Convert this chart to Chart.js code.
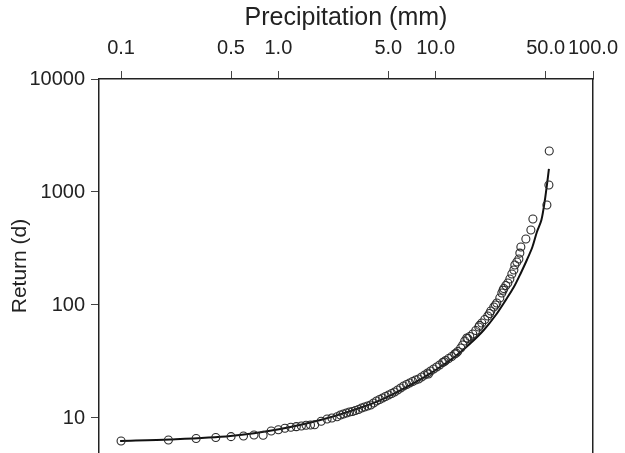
<!DOCTYPE html>
<html>
<head>
<meta charset="utf-8">
<script src="https://cdn.jsdelivr.net/npm/chart.js@4/dist/chart.umd.min.js"></script>
<style>
    body { margin: 0; background: #fff; }
    canvas { display: block; }
</style>
</head>
<body>
<canvas id="return-chart" width="625" height="453"></canvas>
<script>
// Observed points: precipitation (mm) and return period (d)
const precipMm = [
    0.1, 0.2, 0.3, 0.4, 0.5, 0.6, 0.7, 0.8, 0.9, 1.0, 1.1, 1.2, 1.3, 1.4, 1.5, 1.6, 1.7, 1.87, 2.04, 2.19, 2.36,
    2.48, 2.59, 2.71, 2.83, 2.96, 3.09, 3.23, 3.38, 3.53, 3.69, 3.86, 4.03, 4.21, 4.4, 4.6, 4.8, 5.02, 5.25, 5.48,
    5.73, 5.99, 6.26, 6.54, 6.83, 7.14, 7.46, 7.79, 8.14, 8.51, 8.89, 9.0, 9.29, 9.71, 10.15, 10.6, 11.08, 11.3,
    11.58, 12.1, 12.65, 13.21, 13.5, 13.81, 14.43, 14.86, 15.3, 15.76, 16.0, 16.47, 17.21, 17.98, 18.79, 19.0,
    19.63, 20.52, 21.44, 22.0, 22.4, 23.41, 24.0, 24.46, 25.56, 26.33, 26.8, 27.11, 27.92, 28.75, 29.61, 30.49,
    31.4, 31.86, 32.81, 33.79, 34.28, 34.79, 37.43, 40.29, 41.49, 50.93, 52.45, 52.7
];
const returnDays = [
    6.25, 6.38, 6.59, 6.72, 6.84, 6.93, 7.07, 7.04, 7.67, 7.87, 8.11, 8.28, 8.38, 8.5, 8.62, 8.67, 8.72, 9.35, 9.8, 10.0, 10.27,
    10.63, 10.85, 11.07, 11.3, 11.42, 11.65, 11.89, 12.26, 12.51, 12.77, 13.03, 13.57, 14.14, 14.58, 15.03, 15.5, 15.98, 16.48, 16.99,
    17.69, 18.43, 19.2, 19.8, 20.4, 21.04, 21.69, 22.14, 23.06, 24.02, 25.02, 24.5, 26.06, 27.14, 28.27, 29.44, 30.98, 31.5,
    32.28, 33.62, 35.02, 36.85, 37.5, 38.77, 41.65, 44.26, 48.02, 51.05, 50.5, 52.63, 55.39, 59.48, 63.87, 66,
    69.3, 74.41, 79.92, 84, 88.49, 96, 100, 104.2, 115.3, 127.7, 135, 140, 148.8, 156.6, 169.9, 188.1,
    204, 226, 240, 255, 288, 326, 384, 461, 577, 767, 1153, 2306
];

// Fitted curve
const fitMm = [0.0986, 0.205, 0.495, 1.03, 1.85, 2.87, 4.46, 6.93, 10.0, 13.41, 16.71, 20.23, 24.11, 27.92, 31.4, 34.79, 37.98, 41.18, 43.99, 46.99, 49.46, 50.93, 52.45];
const fitDays = [6.26, 6.45, 6.93, 8.0, 9.6, 11.5, 14.4, 19.6, 26.6, 35.4, 46.1, 60.1, 81.5, 111, 144, 192, 250, 326, 443, 565, 850, 1153, 1598];

// Axis ticks
const xTickValues = [0.1, 0.5, 1, 5, 10, 50, 100];
const xTickLabels = ['0.1', '0.5', '1.0', '5.0', '10.0', '50.0', '100.0'];
const yTickValues = [10, 100, 1000, 10000];
const yTickLabels = ['10', '100', '1000', '10000'];

const FONT = "'Liberation Sans', Arial, Helvetica, sans-serif";
const INK = '#222';

const points = precipMm.map((x, i) => ({ x: x, y: returnDays[i] }));
const fit = fitMm.map((x, i) => ({ x: x, y: fitDays[i] }));

// fixed box sizes, no extra label padding
function fixBox(size, horizontal) {
    return function(scale) {
        if (horizontal) scale.height = size; else scale.width = size;
        scale.paddingTop = 0;
        scale.paddingBottom = 0;
        scale.paddingLeft = 0;
        scale.paddingRight = 0;
    };
}

const ctx = document.getElementById('return-chart').getContext('2d');
new Chart(ctx, {
    type: 'scatter',
    data: {
        datasets: [{
            data: points,
            pointStyle: 'circle',
            pointRadius: 4,
            borderWidth: 1.1,
            borderColor: '#2a2a2a',
            backgroundColor: 'rgba(0,0,0,0)',
            showLine: false
        }, {
            data: fit,
            showLine: true,
            pointRadius: 0,
            borderColor: '#111',
            borderWidth: 2,
            tension: 0.3,
            fill: false
        }]
    },
    options: {
        responsive: false,
        animation: false,
        layout: { padding: 0, autoPadding: false },
        plugins: {
            legend: { display: false },
            tooltip: { enabled: false }
        },
        scales: {
            x: {
                type: 'logarithmic',
                position: 'top',
                min: 0.0724,
                max: 100,
                afterBuildTicks: function(scale) {
                    scale.ticks = xTickValues.map(v => ({ value: v }));
                },
                afterFit: fixBox(79, true),
                ticks: {
                    autoSkip: false,
                    maxRotation: 0,
                    padding: 11,
                    color: INK,
                    font: { family: FONT, size: 20 },
                    callback: function(value) {
                        const i = xTickValues.indexOf(value);
                        return i >= 0 ? xTickLabels[i] : '';
                    }
                },
                grid: { drawOnChartArea: false, tickLength: 8, color: '#444', lineWidth: 1 },
                border: { display: true, color: INK, width: 1.5 },
                title: {
                    display: true,
                    text: 'Precipitation (mm)',
                    color: INK,
                    font: { family: FONT, size: 25 },
                    padding: { top: 3, bottom: 0 }
                }
            },
            y: {
                type: 'logarithmic',
                position: 'left',
                min: 4.9,
                max: 10000,
                afterBuildTicks: function(scale) {
                    scale.ticks = yTickValues.map(v => ({ value: v }));
                },
                afterFit: fixBox(99, false),
                ticks: {
                    autoSkip: false,
                    padding: 6,
                    color: INK,
                    font: { family: FONT, size: 20 },
                    callback: function(value) {
                        const i = yTickValues.indexOf(value);
                        return i >= 0 ? yTickLabels[i] : '';
                    }
                },
                grid: { drawOnChartArea: false, tickLength: 8, color: '#444', lineWidth: 1 },
                border: { display: true, color: INK, width: 1.5 },
                title: {
                    display: true,
                    text: 'Return (d)',
                    color: INK,
                    font: { family: FONT, size: 21 },
                    padding: { top: 8, bottom: 0 }
                }
            },
            // right frame line only
            yRight: {
                type: 'logarithmic',
                position: 'right',
                min: 4.9,
                max: 10000,
                display: true,
                afterFit: fixBox(32, false),
                ticks: { display: false },
                grid: { display: false },
                border: { display: true, color: INK, width: 1.5 }
            }
        }
    }
});
</script>
</body>
</html>
